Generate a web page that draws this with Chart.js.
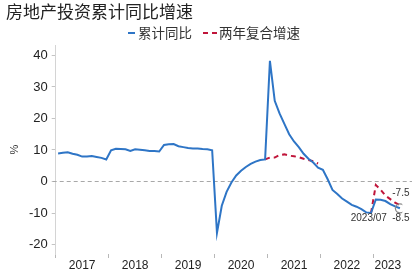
<!DOCTYPE html>
<html>
<head>
<meta charset="utf-8">
<script src="https://cdn.jsdelivr.net/npm/chart.js@4/dist/chart.umd.min.js"></script>
<style>
  html, body { margin: 0; padding: 0; background: #fff; }
  #wrap { width: 412px; height: 276px; position: relative; }
</style>
</head>
<body>
<div id="wrap"><canvas id="c" width="412" height="276"></canvas></div>
<script>
// ---- data (monthly, Jan-Feb combined) ----
const titleText = '房地产投资累计同比增速';
const seriesNames = ['累计同比', '两年复合增速'];
const years = ['2017', '2018', '2019', '2020', '2021', '2022', '2023'];
const periods = [
  '2017/02','2017/03','2017/04','2017/05','2017/06','2017/07','2017/08','2017/09','2017/10','2017/11','2017/12',
  '2018/02','2018/03','2018/04','2018/05','2018/06','2018/07','2018/08','2018/09','2018/10','2018/11','2018/12',
  '2019/02','2019/03','2019/04','2019/05','2019/06','2019/07','2019/08','2019/09','2019/10','2019/11','2019/12',
  '2020/02','2020/03','2020/04','2020/05','2020/06','2020/07','2020/08','2020/09','2020/10','2020/11','2020/12',
  '2021/02','2021/03','2021/04','2021/05','2021/06','2021/07','2021/08','2021/09','2021/10','2021/11','2021/12',
  '2022/02','2022/03','2022/04','2022/05','2022/06','2022/07','2022/08','2022/09','2022/10','2022/11','2022/12',
  '2023/02','2023/03','2023/04','2023/05','2023/06','2023/07'
];
const cumulativeYoY = [
  8.9, 9.1, 9.3, 8.8, 8.5, 7.9, 7.9, 8.1, 7.8, 7.5, 7.0,
  9.9, 10.4, 10.3, 10.2, 9.7, 10.2, 10.1, 9.9, 9.7, 9.7, 9.5,
  11.6, 11.8, 11.9, 11.2, 10.9, 10.6, 10.5, 10.5, 10.3, 10.2, 9.9,
  -16.3, -7.7, -3.3, -0.3, 1.9, 3.4, 4.6, 5.6, 6.3, 6.8, 7.0,
  38.3, 25.6, 21.6, 18.3, 15.0, 12.7, 10.9, 8.8, 7.2, 6.0, 4.4,
  3.7, 0.7, -2.7, -4.0, -5.4, -6.4, -7.4, -8.0, -8.8, -9.8, -10.0,
  -5.7, -5.8, -6.2, -7.2, -7.9, -8.5
];
const twoYearCAGR = [
  null, null, null, null, null, null, null, null, null, null, null,
  null, null, null, null, null, null, null, null, null, null, null,
  null, null, null, null, null, null, null, null, null, null, null,
  null, null, null, null, null, null, null, null, null, null, 7.0,
  7.6, 7.6, 8.4, 8.6, 8.2, 8.0, 7.7, 7.2, 6.8, 6.4, 5.7,
  null, null, null, null, null, null, null, null, null, null, -10.0,
  -1.1, -2.6, -4.5, -5.6, -6.7, -7.5
];
const yTicks = [-20, -10, 0, 10, 20, 30, 40];

// ---- build structures for the library ----
const BLUE = '#2E75C6';
const RED = '#C0153A';
const toPts = arr => arr.map((v, i) => ({ x: i, y: v }));
const lastIdx = periods.length - 1;

// year boundaries and centres (in category-index units)
const yearStart = years.map(y => periods.findIndex(p => p.startsWith(y)) - 0.5);
const yearEnd = years.map((y, k) => k < years.length - 1 ? yearStart[k + 1] : lastIdx + 0.5);
const xTickDefs = [];
years.forEach((y, k) => {
  xTickDefs.push({ value: yearStart[k], label: '', boundary: true });
  xTickDefs.push({ value: (yearStart[k] + yearEnd[k]) / 2, label: y, boundary: false });
});
xTickDefs.sort((a, b) => a.value - b.value);
const findTick = v => xTickDefs.find(t => Math.abs(t.value - v) < 1e-6);

const zeroLinePlugin = {
  id: 'zeroLine',
  beforeDatasetsDraw(chart) {
    const { ctx, chartArea, scales } = chart;
    const y = scales.y.getPixelForValue(0);
    ctx.save();
    ctx.strokeStyle = '#a8a8a8';
    ctx.lineWidth = 1.2;
    ctx.setLineDash([4, 3]);
    ctx.beginPath();
    ctx.moveTo(chartArea.left - 3, y);
    ctx.lineTo(chart.width, y);
    ctx.stroke();
    ctx.restore();
  }
};

const legendPlugin = {
  id: 'customLegend',
  afterDraw(chart) {
    const ctx = chart.ctx;
    ctx.save();
    ctx.font = '13.5px "Noto Sans CJK SC"';
    const w1 = ctx.measureText(seriesNames[0]).width;
    const w2 = ctx.measureText(seriesNames[1]).width;
    const total = 7 + 3 + w1 + 11 + 14 + 2 + w2;
    let x = 214 - total / 2;
    const y = 33;
    ctx.lineWidth = 2;
    ctx.strokeStyle = BLUE;
    ctx.beginPath(); ctx.moveTo(x, y); ctx.lineTo(x + 7, y); ctx.stroke();
    x += 10;
    ctx.fillStyle = '#333';
    ctx.textBaseline = 'middle';
    ctx.fillText(seriesNames[0], x, y);
    x += w1 + 11;
    ctx.strokeStyle = RED;
    ctx.setLineDash([5, 4]);
    ctx.beginPath(); ctx.moveTo(x, y); ctx.lineTo(x + 14, y); ctx.stroke();
    ctx.setLineDash([]);
    x += 16;
    ctx.fillText(seriesNames[1], x, y);
    ctx.restore();
  }
};

const annotPlugin = {
  id: 'annot',
  afterDatasetsDraw(chart) {
    const ctx = chart.ctx;
    const p0 = chart.getDatasetMeta(0).data[lastIdx];
    const p1 = chart.getDatasetMeta(1).data[lastIdx];
    ctx.save();
    ctx.font = '10px "Liberation Sans"';
    ctx.fillStyle = '#333';
    ctx.textBaseline = 'middle';
    ctx.textAlign = 'center';
    ctx.fillText(String(twoYearCAGR[lastIdx]), p1.x + 1, p1.y - 12);
    ctx.fillText(String(cumulativeYoY[lastIdx]), p0.x + 1, p0.y + 10);
    ctx.textAlign = 'right';
    ctx.fillText(periods[lastIdx], p0.x - 13, p0.y + 10);
    ctx.restore();
  }
};

new Chart(document.getElementById('c'), {
  type: 'line',
  data: {
    datasets: [
      {
        label: seriesNames[0],
        data: toPts(cumulativeYoY),
        borderColor: BLUE,
        borderWidth: 2,
        tension: 0,
        pointRadius: ctx => ctx.dataIndex === lastIdx ? 4.5 : 0,
        pointBorderColor: '#8a8a8a',
        pointBackgroundColor: 'rgba(255,255,255,0)',
        pointBorderWidth: 1.3,
        pointHoverRadius: 0
      },
      {
        label: seriesNames[1],
        data: toPts(twoYearCAGR),
        borderColor: RED,
        borderWidth: 2,
        borderDash: [5, 4],
        tension: 0,
        pointRadius: 0,
        spanGaps: false
      }
    ]
  },
  options: {
    responsive: false,
    animation: false,
    events: [],
    layout: { padding: { left: 6, right: 9.7, top: 0, bottom: 0 } },
    plugins: {
      legend: { display: false },
      tooltip: { enabled: false },
      title: {
        display: true,
        text: titleText,
        align: 'start',
        color: '#222',
        font: { family: '"Noto Sans CJK SC"', size: 17, weight: 'normal' },
        padding: { top: 1, bottom: 23.6 }
      }
    },
    scales: {
      x: {
        type: 'linear',
        min: -0.5,
        max: lastIdx + 0.5,
        afterBuildTicks: s => { s.ticks = xTickDefs.map(t => ({ value: t.value })); },
        afterFit: s => { s.height = 22; },
        border: { display: false },
        grid: {
          drawOnChartArea: false,
          drawTicks: true,
          tickLength: 4,
          tickColor: c => (c.tick && findTick(c.tick.value) && findTick(c.tick.value).boundary) ? '#b8b8b8' : 'rgba(0,0,0,0)'
        },
        ticks: {
          autoSkip: false,
          maxRotation: 0,
          padding: 0,
          color: '#222',
          font: { family: '"Liberation Sans"', size: 12 },
          callback: v => { const t = findTick(v); return t ? t.label : ''; }
        }
      },
      y: {
        min: -23,
        max: 43.3,
        afterBuildTicks: s => { s.ticks = yTicks.map(v => ({ value: v })); },
        afterFit: s => { s.width = 49.7; },
        border: { display: true, color: '#d4d4d4', width: 1 },
        grid: { drawOnChartArea: false, drawTicks: true, tickLength: 4, tickColor: '#c4c4c4' },
        ticks: {
          padding: 4,
          color: '#222',
          font: { family: '"Liberation Sans"', size: 13 }
        },
        title: {
          display: true,
          text: '%',
          color: '#333',
          font: { family: '"Liberation Sans"', size: 11 },
          padding: { top: 2, bottom: 0 }
        }
      }
    }
  },
  plugins: [zeroLinePlugin, legendPlugin, annotPlugin]
});
</script>
</body>
</html>
